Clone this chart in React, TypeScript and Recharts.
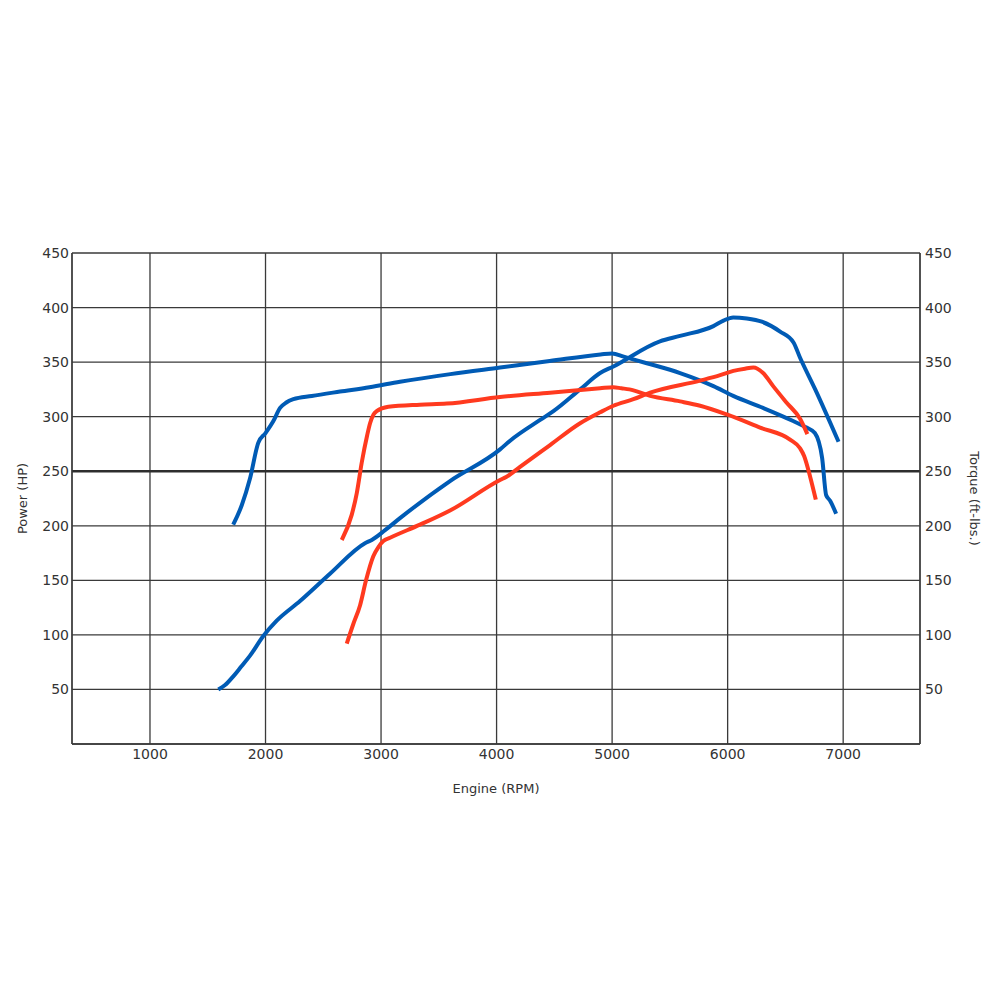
import {
  LineChart,
  Line,
  XAxis,
  YAxis,
  CartesianGrid,
  ReferenceLine,
  Label,
} from "recharts";

// [rpm, value] pairs
const blueTorque: number[][] = [
  [1720, 201], [1795, 219], [1865, 243], [1937, 276], [2000, 285],
  [2068, 296], [2126, 308], [2180, 313], [2241, 316], [2400, 319],
  [2645, 323], [2900, 327], [3164, 332], [3600, 339], [4030, 345],
  [4460, 351], [4900, 357], [5000, 358], [5100, 355], [5300, 349],
  [5588, 340], [5877, 328], [6048, 319], [6307, 308], [6567, 296],
  [6683, 290], [6755, 285], [6818, 262], [6853, 228], [6887, 223],
  [6939, 211],
];

const bluePower: number[][] = [
  [1591, 50], [1650, 54], [1721, 62], [1790, 71], [1866, 81],
  [1981, 99], [2097, 113], [2299, 131], [2558, 156], [2861, 184],
  [2920, 187], [3035, 196], [3164, 207], [3597, 241], [4030, 270],
  [4117, 278], [4377, 297], [4492, 305], [4723, 325], [4896, 340],
  [5011, 346], [5414, 369], [5588, 374], [5877, 383], [5964, 388],
  [6048, 391], [6166, 390], [6296, 387], [6454, 378], [6570, 368],
  [6627, 354], [6758, 325], [6960, 277],
];

const redTorque: number[][] = [
  [2660, 187], [2746, 210], [2790, 230], [2833, 258], [2880, 283],
  [2905, 294], [2935, 302], [2962, 305], [3063, 309], [3337, 311],
  [3569, 312], [4030, 318], [4463, 322], [4896, 326], [5011, 327],
  [5080, 326], [5150, 325], [5329, 319], [5588, 314], [5762, 310],
  [5993, 302], [6281, 290], [6540, 279], [6627, 271], [6662, 264],
  [6714, 245], [6763, 224],
];

const redPower: number[][] = [
  [2703, 92], [2760, 110], [2818, 127], [2870, 150], [2933, 172],
  [2980, 181], [3020, 186], [3078, 189], [3337, 201], [3597, 214],
  [4030, 242], [4087, 245], [4203, 254], [4463, 274], [4723, 294],
  [4896, 304], [5011, 310], [5184, 316], [5329, 322], [5762, 333],
  [5935, 338], [6050, 342], [6150, 344], [6223, 345], [6307, 340],
  [6394, 328], [6509, 313], [6627, 298], [6690, 284],
];

const rpmTicks = [1000, 2000, 3000, 4000, 5000, 6000, 7000];
const valueTicks = [50, 100, 150, 200, 250, 300, 350, 400, 450];

const toRows = (pts: number[][]) => pts.map(([rpm, v]) => ({ rpm, v }));

const BLUE = "#005bb5";
const RED = "#ff3a1f";
const GRID = "#3a3a3a";
const FONT = "DejaVu Sans";

const tickStyle = { fill: "#333", fontSize: 14, fontFamily: FONT };

const App = () => {
  // torque curves read on the right axis, power on the left (same 0-450 scale)
  const curves = [
    { name: "blueTorque", data: blueTorque, color: BLUE, axis: "right" },
    { name: "bluePower", data: bluePower, color: BLUE, axis: "left" },
    { name: "redTorque", data: redTorque, color: RED, axis: "right" },
    { name: "redPower", data: redPower, color: RED, axis: "left" },
  ];

  return (
    <div style={{ position: "absolute", left: 0, top: 0, width: 1000, height: 1000, background: "#fff" }}>
      <LineChart
        width={1000}
        height={1000}
        margin={{ top: 253, right: 0, bottom: 196, left: 0 }}
      >
        <CartesianGrid yAxisId="left" stroke={GRID} strokeWidth={1.3} />
        <XAxis
          dataKey="rpm"
          type="number"
          domain={[325, 7665]}
          ticks={rpmTicks}
          allowDataOverflow
          height={60}
          tickLine={false}
          tickSize={0}
          tickMargin={5}
          axisLine={{ stroke: GRID, strokeWidth: 1.3 }}
          tick={tickStyle}
        >
          <Label
            value="Engine (RPM)"
            position="center"
            dy={14}
            style={{ fill: "#333", fontSize: 13, fontFamily: FONT }}
          />
        </XAxis>
        <YAxis
          yAxisId="left"
          orientation="left"
          type="number"
          domain={[0, 450]}
          ticks={valueTicks}
          width={72}
          tickLine={false}
          tickSize={0}
          tickMargin={3}
          axisLine={{ stroke: GRID, strokeWidth: 1.3 }}
          tick={tickStyle}
        >
          <Label
            value="Power (HP)"
            angle={-90}
            position="center"
            dx={-14}
            style={{ fill: "#333", fontSize: 13, fontFamily: FONT, textAnchor: "middle" }}
          />
        </YAxis>
        <YAxis
          yAxisId="right"
          orientation="right"
          type="number"
          domain={[0, 450]}
          ticks={valueTicks}
          width={80}
          tickLine={false}
          tickSize={0}
          tickMargin={5}
          axisLine={{ stroke: GRID, strokeWidth: 1.3 }}
          tick={tickStyle}
        >
          <Label
            value="Torque (ft-lbs.)"
            angle={90}
            position="center"
            dx={15}
            style={{ fill: "#333", fontSize: 13, fontFamily: FONT, textAnchor: "middle" }}
          />
        </YAxis>
        <ReferenceLine yAxisId="left" y={250} stroke="#2e2e2e" strokeWidth={2.6} />
        {curves.map((c) => (
          <Line
            key={c.name}
            yAxisId={c.axis}
            data={toRows(c.data)}
            dataKey="v"
            type="monotone"
            stroke={c.color}
            strokeWidth={4}
            dot={false}
            activeDot={false}
            isAnimationActive={false}
          />
        ))}
      </LineChart>
    </div>
  );
};

export default App;
